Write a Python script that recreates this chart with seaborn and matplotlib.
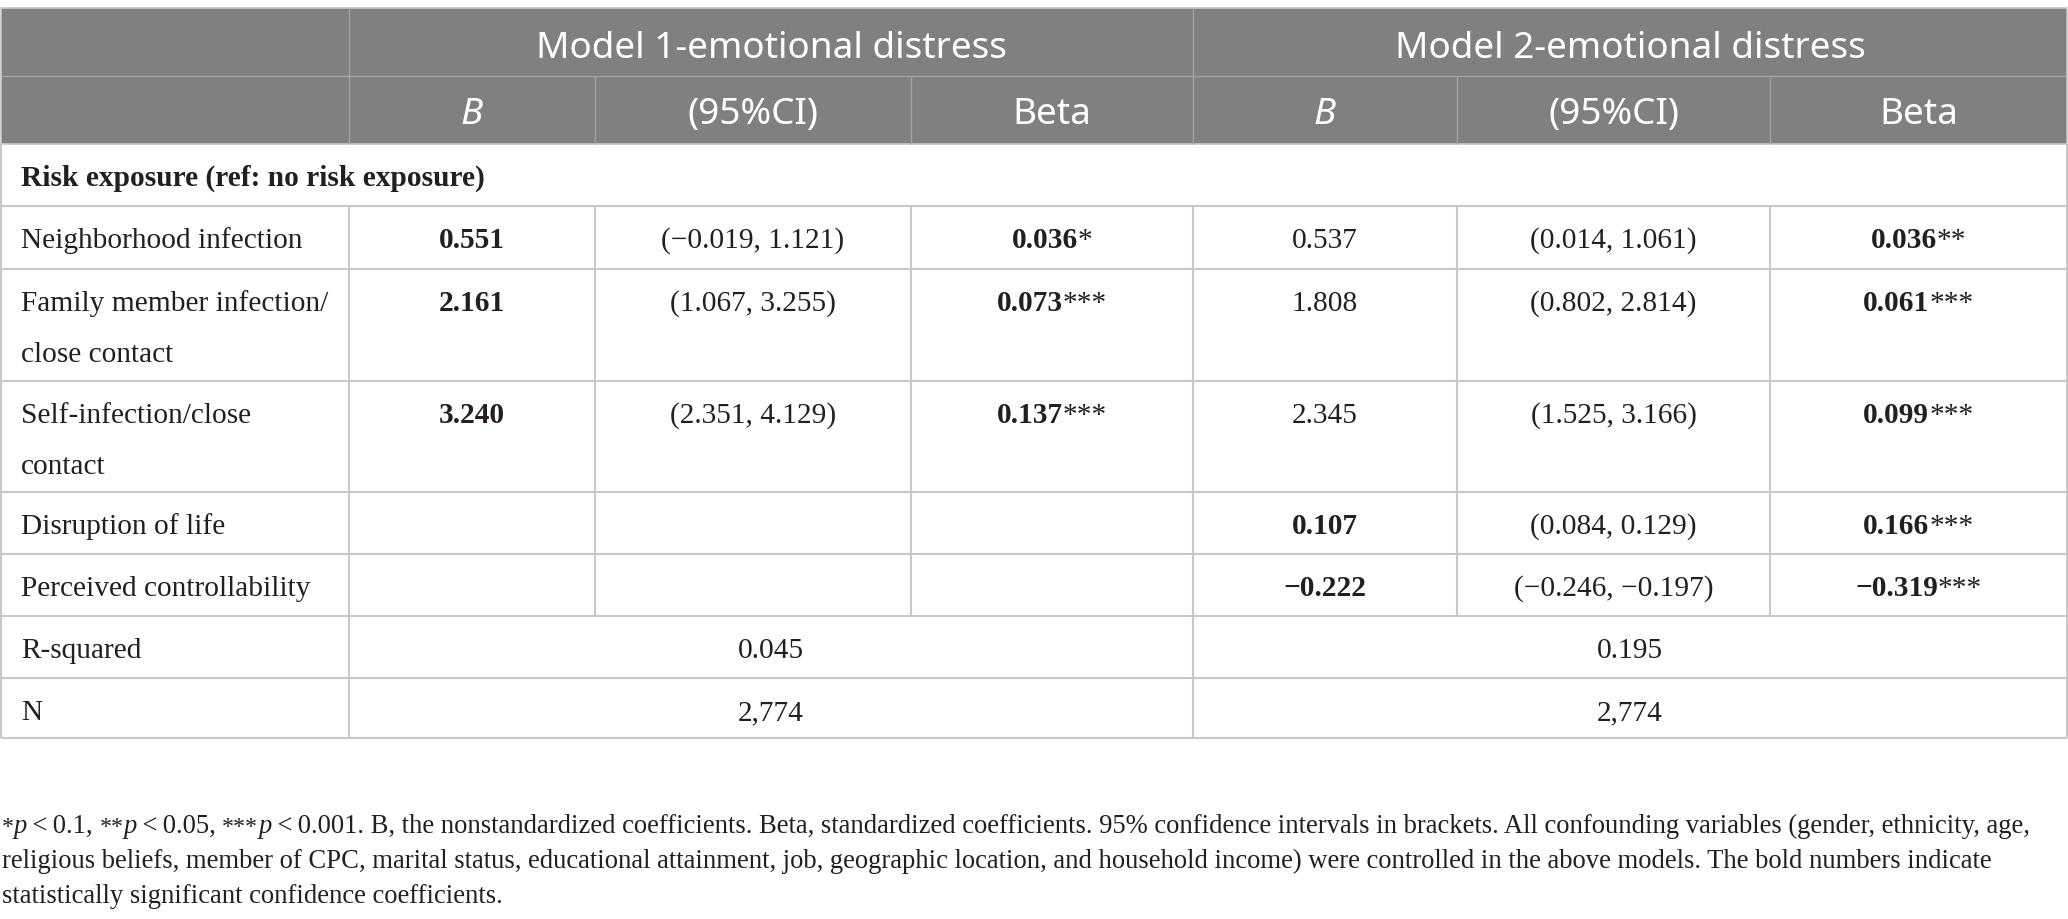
import matplotlib
matplotlib.use("Agg")
import matplotlib.pyplot as plt
import seaborn as sns
from matplotlib.patches import Rectangle

sns.set_theme(style="white")
plt.rcParams['font.family'] = ['Liberation Serif', 'DejaVu Serif']

# ---------------- data ----------------
model_titles = ["Model 1-emotional distress", "Model 2-emotional distress"]
sub_headers = ["B", "(95%CI)", "Beta"]
section_label = "Risk exposure (ref: no risk exposure)"
row_labels = [["Neighborhood infection"],
              ["Family member infection/", "close contact"],
              ["Self-infection/close", "contact"],
              ["Disruption of life"],
              ["Perceived controllability"]]
m1_B = ["0.551", "2.161", "3.240", "", ""]
m1_B_bold = [True, True, True, False, False]
m1_CI = ["(\u22120.019, 1.121)", "(1.067, 3.255)", "(2.351, 4.129)", "", ""]
m1_beta = ["0.036", "0.073", "0.137", "", ""]
m1_stars = ["*", "***", "***", "", ""]
m2_B = ["0.537", "1.808", "2.345", "0.107", "\u22120.222"]
m2_B_bold = [False, False, False, True, True]
m2_CI = ["(0.014, 1.061)", "(0.802, 2.814)", "(1.525, 3.166)", "(0.084, 0.129)",
         "(\u22120.246, \u22120.197)"]
m2_beta = ["0.036", "0.061", "0.099", "0.166", "\u22120.319"]
m2_stars = ["**", "***", "***", "***", "***"]
summary_labels = ["R-squared", "N"]
m1_summary = ["0.045", "2,774"]
m2_summary = ["0.195", "2,774"]
foot_line1 = [("*", "sup"), ("p", "it"), ("\u2009<\u20090.1, ", "rm"), ("**", "sup"), ("p", "it"),
              ("\u2009<\u20090.05, ", "rm"), ("***", "sup"), ("p", "it"),
              ("\u2009<\u20090.001. B, the nonstandardized coefficients. Beta, standardized coefficients. "
               "95% confidence intervals in brackets. All confounding variables (gender, ethnicity, age,", "rm")]
foot_line2 = ("religious beliefs, member of CPC, marital status, educational attainment, job, "
              "geographic location, and household income) were controlled in the above models. "
              "The bold numbers indicate")
foot_line3 = "statistically significant confidence coefficients."

# ---------------- layout ----------------
W, H = 2068, 920
X = [1, 349, 595, 911, 1193, 1457, 1770, 2067]
Y = [9, 77, 145, 207, 270, 382, 493, 555, 617, 679, 739]
FOOT_Y = [833, 868, 903]
HEAD_BG = "#808080"
HEAD_LINE = "#a3a3a3"
GRID = "#c8c8c8"
TXT = "#231f20"
SERIF = ['Liberation Serif', 'DejaVu Serif']
SANS = ['Noto Sans', 'DejaVu Sans']

fig = plt.figure(figsize=(W / 100, H / 100), dpi=100)
ax = fig.add_axes([0, 0, 1, 1])
ax.set_xlim(0, W)
ax.set_ylim(H, 0)
ax.axis('off')
renderer = fig.canvas.get_renderer()


def text_w(s, **kw):
    t = ax.text(0, 0, s, **kw)
    w = t.get_window_extent(renderer=renderer).width
    t.remove()
    return w


def run_w(s, **kw):
    # width including leading/trailing spaces
    core = s.strip(" ")
    nlead = len(s) - len(s.lstrip(" "))
    ntrail = len(s) - len(s.rstrip(" "))
    sp = text_w("x x", **kw) - text_w("xx", **kw)
    w = text_w(core, **kw) if core else 0
    return w + (nlead + ntrail) * sp, nlead * sp


def fit(s, target, **kw):
    return 10 * target / text_w(s, fontsize=10, **kw)


body_fs = fit("Neighborhood infection", 282, family=SERIF)
head_fs = fit("Model 1-emotional distress", 471, family=SANS)
foot_fs = fit(foot_line2, 1994, family=SERIF)


def style_kw(style, fs):
    if style == "bf":
        return dict(family=SERIF, fontsize=fs, fontweight="bold")
    if style == "it":
        return dict(family=SERIF, fontsize=fs, fontstyle="italic")
    if style == "sup":
        return dict(family=SERIF, fontsize=fs * 0.9)
    return dict(family=SERIF, fontsize=fs)


def draw_runs(x, y, runs, fs, ha="left", color=TXT):
    pieces = []
    total = 0
    for s, st in runs:
        kw = style_kw(st, fs)
        w, lead = run_w(s, **kw)
        pieces.append((s.strip(" "), kw, total + lead))
        total += w
    x0 = x - total / 2 if ha == "center" else x
    for s, kw, off in pieces:
        if s:
            ax.text(x0 + off, y, s, ha="left", va="baseline", color=color, **kw)


# ---------------- header ----------------
ax.add_patch(Rectangle((X[0], Y[0]), X[-1] - X[0], Y[2] - Y[0],
                       facecolor=HEAD_BG, edgecolor=GRID, lw=1.2))
ax.hlines(Y[1], X[0], X[-1], color=HEAD_LINE, lw=1.0)
ax.vlines([X[1], X[4]], Y[0], Y[2], color=HEAD_LINE, lw=1.0)
ax.vlines([X[2], X[3], X[5], X[6]], Y[1], Y[2], color=HEAD_LINE, lw=1.0)

head_base1 = (Y[0] + Y[1]) / 2 + 15
head_base2 = (Y[1] + Y[2]) / 2 + 13
ax.text((X[1] + X[4]) / 2, head_base1, model_titles[0], ha="center", va="baseline",
        color="white", family=SANS, fontsize=head_fs)
ax.text((X[4] + X[7]) / 2, head_base1, model_titles[1], ha="center", va="baseline",
        color="white", family=SANS, fontsize=head_fs)
for m in range(2):
    for j, lab in enumerate(sub_headers):
        xc = (X[1 + 3 * m + j] + X[2 + 3 * m + j]) / 2
        ax.text(xc, head_base2, lab, ha="center", va="baseline", color="white",
                family=SANS, fontsize=head_fs,
                fontstyle="italic" if lab == "B" else "normal")

# ---------------- body grid ----------------
ax.hlines(Y[3:], X[0], X[-1], color=GRID, lw=1.5)
ax.vlines([X[0], X[-1]], Y[2], Y[-1], color=GRID, lw=1.5)
ax.vlines(X[1:-1], Y[3], Y[8], color=GRID, lw=1.5)
ax.vlines([X[1], X[4]], Y[8], Y[10], color=GRID, lw=1.5)

BASE_OFF = 41   # baseline offset from row top for first line
LINE_GAP = 51

ax.text(21, Y[2] + BASE_OFF, section_label, ha="left", va="baseline", color=TXT,
        family=SERIF, fontsize=body_fs, fontweight="bold")

cols = [(m1_B, m1_B_bold, m1_CI, m1_beta, m1_stars, 1),
        (m2_B, m2_B_bold, m2_CI, m2_beta, m2_stars, 4)]
for i, labs in enumerate(row_labels):
    top = Y[3 + i]
    for k, l in enumerate(labs):
        ax.text(21, top + BASE_OFF + k * LINE_GAP, l, ha="left", va="baseline",
                color=TXT, family=SERIF, fontsize=body_fs)
    yb = top + BASE_OFF
    for Bv, Bb, CI, beta, stars, c0 in cols:
        if Bv[i]:
            ax.text((X[c0] + X[c0 + 1]) / 2, yb, Bv[i], ha="center", va="baseline",
                    color=TXT, family=SERIF, fontsize=body_fs,
                    fontweight="bold" if Bb[i] else "normal")
        if CI[i]:
            ax.text((X[c0 + 1] + X[c0 + 2]) / 2, yb, CI[i], ha="center", va="baseline",
                    color=TXT, family=SERIF, fontsize=body_fs)
        if beta[i]:
            draw_runs((X[c0 + 2] + X[c0 + 3]) / 2, yb,
                      [(beta[i], "bf"), (stars[i], "rm")], body_fs, ha="center")

for k, lab in enumerate(summary_labels):
    yb = Y[8 + k] + BASE_OFF
    ax.text(21, yb, lab, ha="left", va="baseline", color=TXT, family=SERIF, fontsize=body_fs)
    ax.text((X[1] + X[4]) / 2, yb, m1_summary[k], ha="center", va="baseline", color=TXT,
            family=SERIF, fontsize=body_fs)
    ax.text((X[4] + X[7]) / 2, yb, m2_summary[k], ha="center", va="baseline", color=TXT,
            family=SERIF, fontsize=body_fs)

# ---------------- footnote ----------------
draw_runs(2, FOOT_Y[0], foot_line1, foot_fs)
ax.text(2, FOOT_Y[1], foot_line2, ha="left", va="baseline", color=TXT, family=SERIF,
        fontsize=foot_fs)
ax.text(2, FOOT_Y[2], foot_line3, ha="left", va="baseline", color=TXT, family=SERIF,
        fontsize=foot_fs)

fig.savefig("out.png", dpi=100, facecolor="white")
